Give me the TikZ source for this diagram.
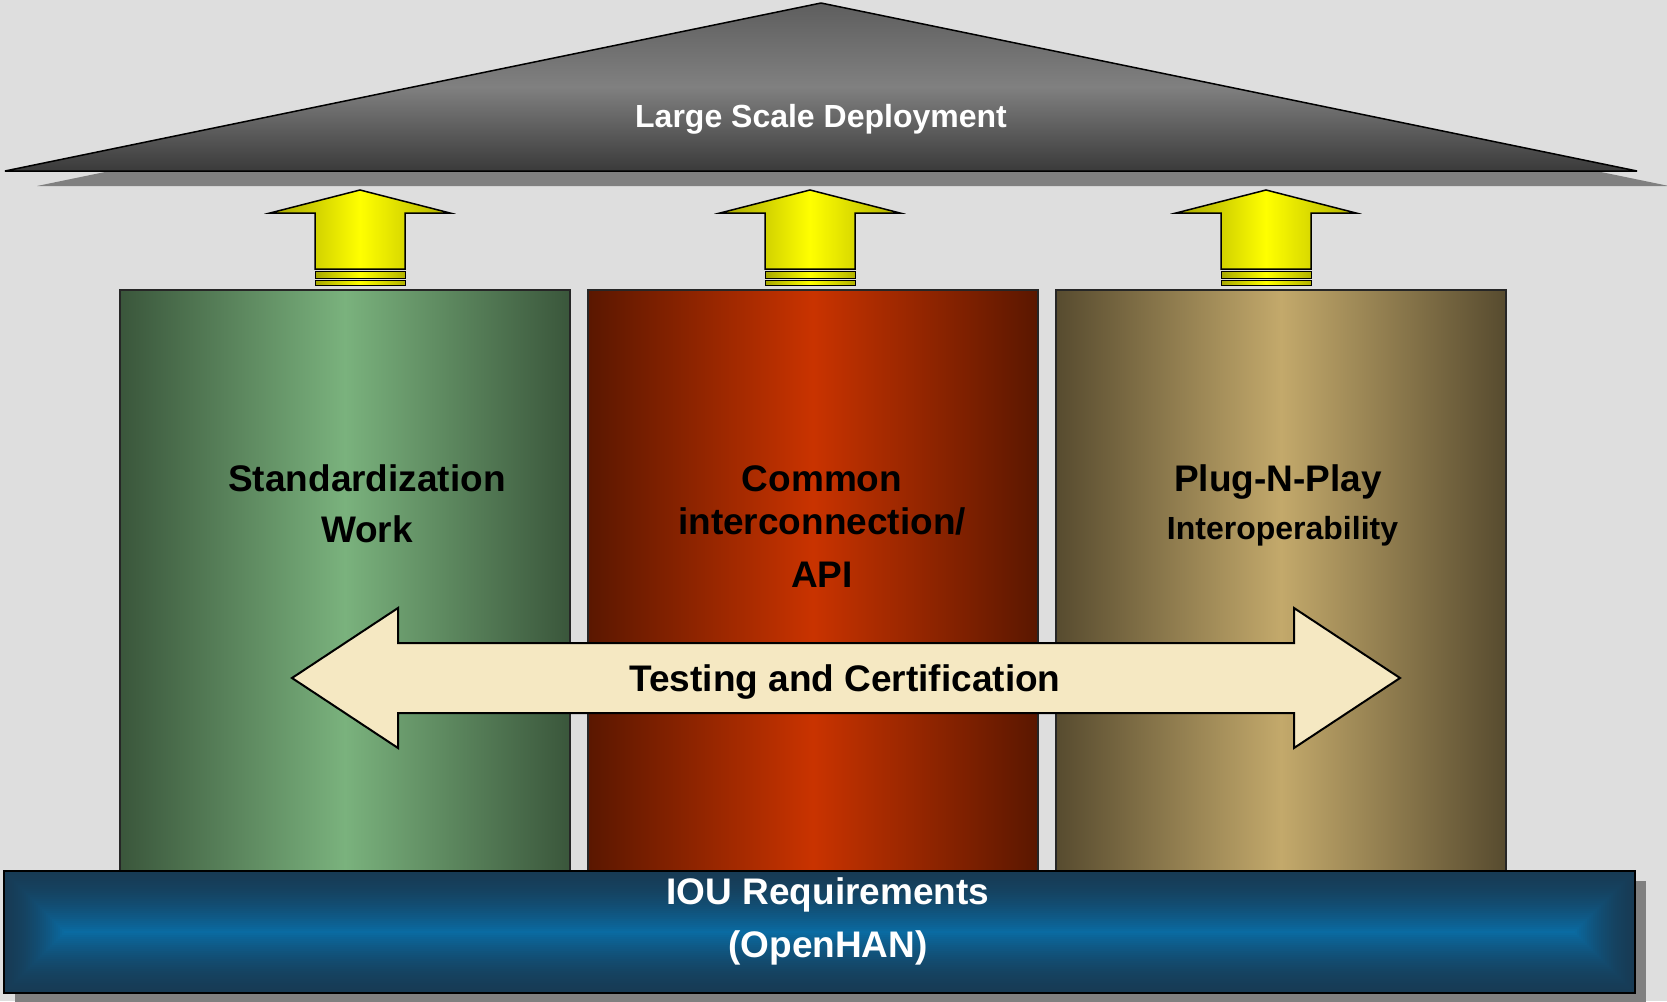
\documentclass[tikz,border=0pt]{standalone}
\usepackage{fontspec}
\setmainfont{Liberation Sans}
\usetikzlibrary{positioning, calc}

\definecolor{wallgray}{HTML}{DEDEDE}
\definecolor{shadowgray}{HTML}{808080}
\definecolor{rooftop}{HTML}{5E5E5E}
\definecolor{roofmid}{HTML}{808080}
\definecolor{roofbottom}{HTML}{3A3A3A}
\definecolor{greendark}{HTML}{3A563B}
\definecolor{greenlight}{HTML}{7AB27D}
\definecolor{reddark}{HTML}{5A1700}
\definecolor{redlight}{HTML}{C93300}
\definecolor{golddark}{HTML}{574B2F}
\definecolor{goldlight}{HTML}{C3A96B}
\definecolor{bandcream}{HTML}{F5E8C2}
\definecolor{baseedge}{HTML}{173B55}
\definecolor{basecore}{HTML}{0A6BA2}

\tikzset{
    pillar/.style={rectangle, draw=black!85, line width=1.5pt, minimum width=450pt, minimum height=582pt, inner sep=0pt, outer sep=0pt},
    pillartext/.style={font=\fontsize{37}{51}\selectfont\bfseries, align=center, text=black, inner sep=0pt},
    whitetext/.style={font=\fontsize{37}{53}\selectfont\bfseries, align=center, text=white, inner sep=0pt},
    roofshade/.style={line width=1.5pt, line join=bevel, top color=rooftop, bottom color=roofbottom, middle color=roofmid},
    uparrow/.style={draw=black, line width=1.5pt, line join=miter, left color=yellow!65!black, right color=yellow!70!black, middle color=yellow},
}

\begin{document}
\begin{tikzpicture}[x=1pt, y=-1pt]
    \useasboundingbox (0,0) rectangle (1667,1001);
    \fill[wallgray] (0,0) rectangle (1667,1001);

    % roof and its shadow
    \fill[shadowgray] (37,186) -- (853,18) -- (1669,186) -- cycle;
    \draw[roofshade] (5,171) -- (821,3) -- (1637,171) -- cycle;
    \node[whitetext, font=\fontsize{32}{38}\selectfont\bfseries, anchor=base] (roof) at (821,127) {Large Scale Deployment};

    % yellow arrows holding up the roof
    \foreach \cx in {360, 810, 1266} {
        \draw[uparrow] (\cx-90,213) -- (\cx,190) -- (\cx+90,213) -- (\cx+45,213)
            -- (\cx+45,269) -- (\cx-45,269) -- (\cx-45,213) -- cycle;
        \draw[uparrow, line width=1pt] (\cx-45,271) rectangle (\cx+45,278);
        \draw[uparrow, line width=1pt] (\cx-45,280) rectangle (\cx+45,285);
    }

    % the three pillars
    \node[pillar, left color=greendark, right color=greendark, middle color=greenlight] (std) at (345,581) {};
    \node[pillar, left color=reddark, right color=reddark, middle color=redlight, right=18pt of std] (api) {};
    \node[pillar, left color=golddark, right color=golddark, middle color=goldlight, right=18pt of api] (pnp) {};

    % multi-line labels sit on the baseline of their last line
    \node[pillartext, anchor=base] (stdtext) at (367,542) {Standardization\\Work};
    \node[pillartext, anchor=base] (apitext) at (822,587) {Common\\[-8pt]interconnection/\\[2pt]API};
    \node[pillartext, anchor=base] (pnptext) at (1278,539) {Plug-N-Play\\[-3pt]{\fontsize{32}{38}\selectfont\hspace*{9pt}Interoperability}};

    % band across the pillars
    \draw[line width=2pt, line join=miter, fill=bandcream] (292,678) -- (398,608) -- (398,643) -- (1294,643)
        -- (1294,608) -- (1400,678) -- (1294,748) -- (1294,713) -- (398,713) -- (398,748) -- cycle;
    \node[pillartext, anchor=base] (testing) at (845,691) {Testing and Certification};

    % foundation
    \fill[shadowgray] (15,881) rectangle (1646,1003);
    \foreach \i in {0,...,30} {
        \pgfmathsetmacro{\mix}{100*(\i/30)^1.6}
        \fill[basecore!\mix!baseedge] (4+2*\i,871+2*\i) rectangle (1635-2*\i,993-2*\i);
    }
    \draw[line width=1.5pt] (4,871) rectangle (1635,993);
    \node[whitetext, anchor=base] (iou) at (828,957) {IOU Requirements\\(OpenHAN)};
\end{tikzpicture}
\end{document}
